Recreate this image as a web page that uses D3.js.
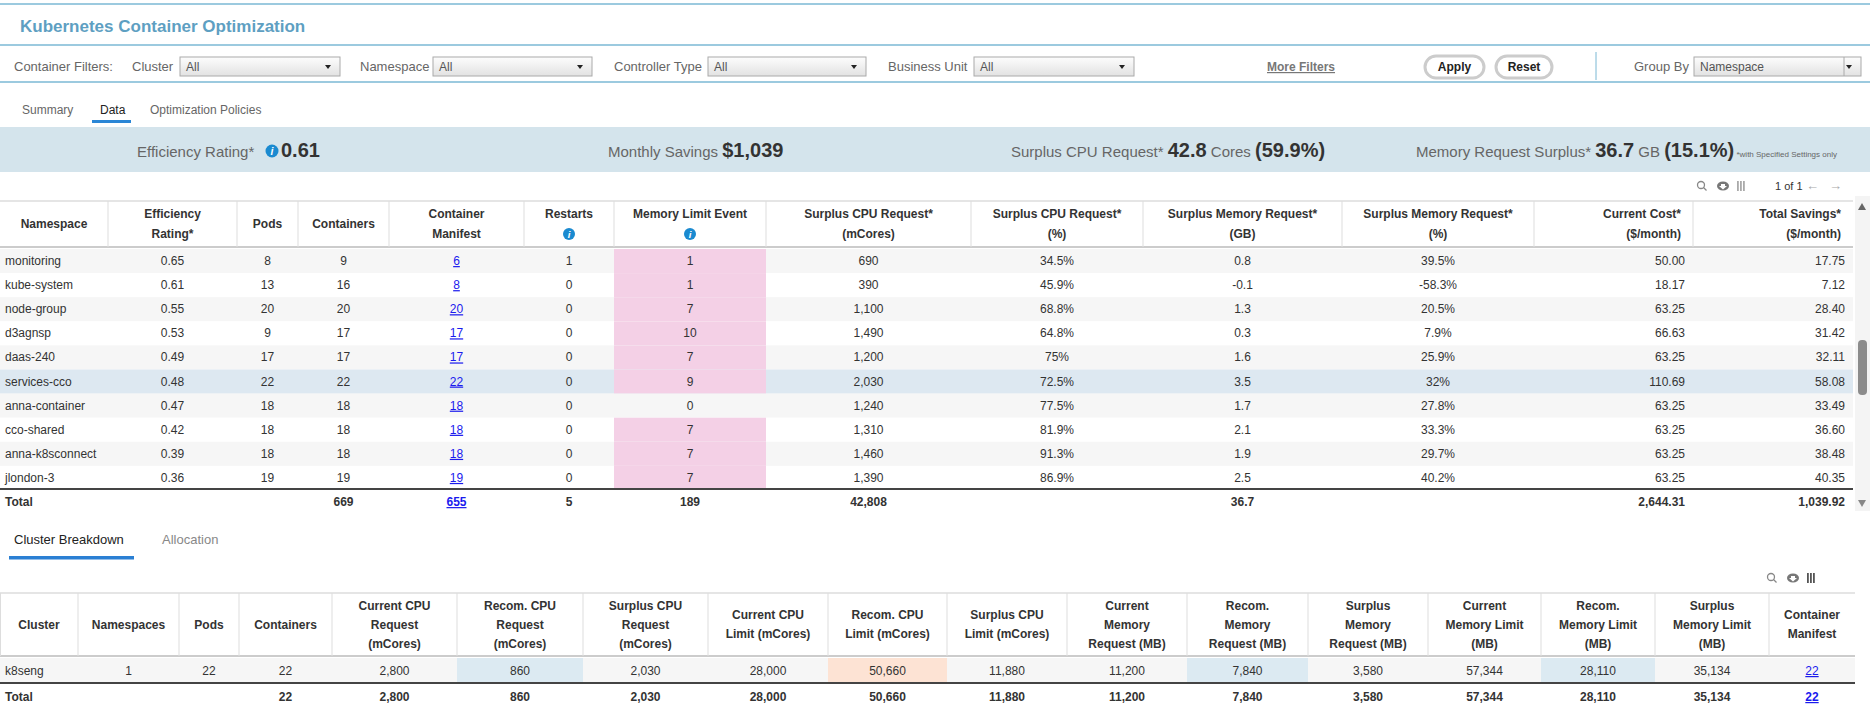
<!DOCTYPE html>
<html><head><meta charset="utf-8">
<script src="https://cdn.jsdelivr.net/npm/d3@7"></script>
<style>body{margin:0;background:#fff;font-family:"Liberation Sans",Arial,sans-serif;}</style>
</head><body><div id="chart"></div>
<script>
const namespaces = ["monitoring","kube-system","node-group","d3agnsp","daas-240","services-cco","anna-container","cco-shared","anna-k8sconnect","jlondon-3"];
const efficiency = ["0.65","0.61","0.55","0.53","0.49","0.48","0.47","0.42","0.39","0.36"];
const pods = [8,13,20,9,17,22,18,18,18,19];
const containers = [9,16,20,17,17,22,18,18,18,19];
const manifest = [6,8,20,17,17,22,18,18,18,19];
const restarts = [1,0,0,0,0,0,0,0,0,0];
const memLimitEvents = [1,1,7,10,7,9,0,7,7,7];
const cpuSurplus = ["690","390","1,100","1,490","1,200","2,030","1,240","1,310","1,460","1,390"];
const cpuSurplusPct = ["34.5%","45.9%","68.8%","64.8%","75%","72.5%","77.5%","81.9%","91.3%","86.9%"];
const memSurplusGB = ["0.8","-0.1","1.3","0.3","1.6","3.5","1.7","2.1","1.9","2.5"];
const memSurplusPct = ["39.5%","-58.3%","20.5%","7.9%","25.9%","32%","27.8%","33.3%","29.7%","40.2%"];
const currentCost = ["50.00","18.17","63.25","66.63","63.25","110.69","63.25","63.25","63.25","63.25"];
const totalSavings = ["17.75","7.12","28.40","31.42","32.11","58.08","33.49","36.60","38.48","40.35"];
const topTotals = ["Total","","","669","655","5","189","42,808","","36.7","","2,644.31","1,039.92"];
const topHeaders = [["Namespace"],["Efficiency","Rating*"],["Pods"],["Containers"],["Container","Manifest"],["Restarts","(i)"],["Memory Limit Event","(i)"],["Surplus CPU Request*","(mCores)"],["Surplus CPU Request*","(%)"],["Surplus Memory Request*","(GB)"],["Surplus Memory Request*","(%)"],["Current Cost*","($/month)"],["Total Savings*","($/month)"]];

const clusterHeaders = [["Cluster"],["Namespaces"],["Pods"],["Containers"],["Current CPU","Request","(mCores)"],["Recom. CPU","Request","(mCores)"],["Surplus CPU","Request","(mCores)"],["Current CPU","Limit (mCores)"],["Recom. CPU","Limit (mCores)"],["Surplus CPU","Limit (mCores)"],["Current","Memory","Request (MB)"],["Recom.","Memory","Request (MB)"],["Surplus","Memory","Request (MB)"],["Current","Memory Limit","(MB)"],["Recom.","Memory Limit","(MB)"],["Surplus","Memory Limit","(MB)"],["Container","Manifest"]];
const clusterRow = ["k8seng","1","22","22","2,800","860","2,030","28,000","50,660","11,880","11,200","7,840","3,580","57,344","28,110","35,134","22"];
const clusterTotal = ["Total","","","22","2,800","860","2,030","28,000","50,660","11,880","11,200","7,840","3,580","57,344","28,110","35,134","22"];

const W = 1870, H = 721;
const svg = d3.select("#chart").append("svg").attr("width", W).attr("height", H)
  .style("font-family", '"Liberation Sans", Arial, sans-serif');

const defs = svg.append("defs");
const grad = defs.append("linearGradient").attr("id", "sel").attr("x1", 0).attr("x2", 0).attr("y1", 0).attr("y2", 1);
grad.append("stop").attr("offset", "0%").attr("stop-color", "#fdfdfd");
grad.append("stop").attr("offset", "100%").attr("stop-color", "#e2e2e2");

// header lines and title
[4, 45, 82].forEach(y => svg.append("line").attr("x1", 0).attr("x2", W).attr("y1", y).attr("y2", y)
  .attr("stroke", "#7bb8d4").attr("stroke-width", 1.5));
svg.append("text").attr("x", 20).attr("y", 32).attr("font-size", 17).attr("font-weight", "bold")
  .attr("fill", "#5e9fc2").text("Kubernetes Container Optimization");

// filter bar
const labels = [["Container Filters:", 14], ["Cluster", 132], ["Namespace", 360], ["Controller Type", 614], ["Business Unit", 888], ["Group By", 1634]];
labels.forEach(([t, x]) => svg.append("text").attr("x", x).attr("y", 71).attr("font-size", 13).attr("fill", "#666").text(t));
const selects = [[180, 340, "All"], [433, 592, "All"], [708, 866, "All"], [974, 1134, "All"], [1694, 1861, "Namespace"]];
selects.forEach(([x0, x1, t]) => {
  svg.append("rect").attr("x", x0).attr("y", 57).attr("width", x1 - x0).attr("height", 19)
    .attr("fill", "url(#sel)").attr("stroke", "#aaa");
  svg.append("text").attr("x", x0 + 6).attr("y", 71).attr("font-size", 12).attr("fill", "#555").text(t);
  svg.append("path").attr("d", `M${x1 - 15},65 l6,0 l-3,4 z`).attr("fill", "#222");
});
svg.append("line").attr("x1", 1844).attr("x2", 1844).attr("y1", 57).attr("y2", 76).attr("stroke", "#aaa");
svg.append("text").attr("x", 1267).attr("y", 71).attr("font-size", 12).attr("font-weight", "bold")
  .attr("fill", "#777").attr("text-decoration", "underline").text("More Filters");
[[1425, 1484, "Apply"], [1496, 1552, "Reset"]].forEach(([x0, x1, t]) => {
  svg.append("rect").attr("x", x0).attr("y", 56).attr("width", x1 - x0).attr("height", 22).attr("rx", 11)
    .attr("fill", "#fff").attr("stroke", "#ccc").attr("stroke-width", 3);
  svg.append("text").attr("x", (x0 + x1) / 2).attr("y", 71).attr("text-anchor", "middle")
    .attr("font-size", 12).attr("font-weight", "bold").attr("fill", "#222").text(t);
});
svg.append("line").attr("x1", 1596).attr("x2", 1596).attr("y1", 52).attr("y2", 80).attr("stroke", "#7bb8d4");

// tabs
[["Summary", 22, "#666"], ["Data", 100, "#222"], ["Optimization Policies", 150, "#666"]].forEach(([t, x, c]) =>
  svg.append("text").attr("x", x).attr("y", 114).attr("font-size", 12).attr("fill", c).text(t));
svg.append("rect").attr("x", 92).attr("y", 120).attr("width", 39).attr("height", 3).attr("fill", "#2a86d6");

// summary band
svg.append("rect").attr("x", 0).attr("y", 127).attr("width", W).attr("height", 45).attr("fill", "#d4e4ec");
function info(x, y, r) {
  svg.append("circle").attr("cx", x).attr("cy", y).attr("r", r).attr("fill", "#1a8ad0");
  svg.append("text").attr("x", x).attr("y", y + r * 0.6).attr("text-anchor", "middle").attr("font-size", r * 1.6)
    .attr("font-weight", "bold").attr("font-style", "italic").attr("fill", "#fff").text("i");
}
function band(x, parts) {
  const t = svg.append("text").attr("x", x).attr("y", 157).attr("fill", "#666");
  parts.forEach(([s, size, bold]) => t.append("tspan").attr("font-size", size)
    .attr("font-weight", bold ? "bold" : "normal").attr("fill", bold ? "#333" : "#666").text(s));
  return t;
}
band(137, [["Efficiency Rating*", 15, false]]);
info(272, 151, 6.5);
band(281, [["0.61", 20, true]]);
band(608, [["Monthly Savings ", 15, false], ["$1,039", 20, true]]);
band(1011, [["Surplus CPU Request* ", 15, false], ["42.8", 20, true], [" Cores ", 15, false], ["(59.9%)", 20, true]]);
band(1416, [["Memory Request Surplus* ", 15, false], ["36.7", 20, true], [" GB ", 15, false], ["(15.1%)", 20, true], [" *with Specified Settings only", 8, false]]);

// toolbar icons
function tools(x, y, label) {
  svg.append("circle").attr("cx", x).attr("cy", y - 1).attr("r", 3.5).attr("fill", "none").attr("stroke", "#888").attr("stroke-width", 1.3);
  svg.append("line").attr("x1", x + 2.5).attr("y1", y + 1.5).attr("x2", x + 5.5).attr("y2", y + 4.5).attr("stroke", "#888").attr("stroke-width", 1.3);
  svg.append("ellipse").attr("cx", x + 22).attr("cy", y).attr("rx", 6).attr("ry", 4.5).attr("fill", "#777");
  svg.append("path").attr("d", `M${x + 20},${y - 2} l4,0 l0,2 l2,0 l-4,3.5 l-4,-3.5 l2,0 z`).attr("fill", "#fff");
  [0, 3, 6].forEach(d => svg.append("rect").attr("x", x + 36 + d).attr("y", y - 5).attr("width", 1.8).attr("height", 10).attr("fill", label ? "#aaa" : "#555"));
  if (label) {
    svg.append("text").attr("x", x + 74).attr("y", y + 4).attr("font-size", 11).attr("fill", "#333").text("1 of 1");
    svg.append("text").attr("x", x + 105).attr("y", y + 4).attr("font-size", 13).attr("fill", "#aaa").text("\u2190");
    svg.append("text").attr("x", x + 128).attr("y", y + 4).attr("font-size", 13).attr("fill", "#aaa").text("\u2192");
  }
}
tools(1701, 186, true);

// generic table drawer
function drawTable(opts) {
  const { edges, top, headBottom, headers, rows, rowH, align, headerLines } = opts;
  const g = svg.append("g");
  const xs = edges;
  const right = xs[xs.length - 1];
  const y = d3.scaleBand().domain(d3.range(rows.length)).range([headBottom + 2, headBottom + 2 + rowH * rows.length]);
  // rows
  rows.forEach((r, i) => {
    g.append("rect").attr("x", 0).attr("y", y(i)).attr("width", right).attr("height", y.bandwidth())
      .attr("fill", r.bg || "#fff");
    (r.cells || []).forEach((c, j) => {
      if (c.bg) g.append("rect").attr("x", xs[j]).attr("y", y(i)).attr("width", xs[j + 1] - xs[j]).attr("height", y.bandwidth()).attr("fill", c.bg);
    });
  });
  // header
  g.append("line").attr("x1", 0).attr("x2", right).attr("y1", top).attr("y2", top).attr("stroke", "#ddd").attr("stroke-width", 1.5);
  g.append("line").attr("x1", 0).attr("x2", right).attr("y1", headBottom).attr("y2", headBottom).attr("stroke", "#ccc").attr("stroke-width", 2);
  xs.slice(1, -1).forEach(x => g.append("line").attr("x1", x).attr("x2", x).attr("y1", top).attr("y2", headBottom).attr("stroke", "#ddd"));
  if (opts.leftBorder) g.append("line").attr("x1", 0.5).attr("x2", 0.5).attr("y1", top).attr("y2", headBottom).attr("stroke", "#ddd");
  const mid = (top + headBottom) / 2;
  headers.forEach((lines, j) => {
    const n = lines.length;
    const cx = align[j] === "end" ? xs[j + 1] - 12 : (xs[j] + xs[j + 1]) / 2;
    lines.forEach((l, k) => {
      const ly = mid + (k - (n - 1) / 2) * headerLines + 4;
      if (l === "(i)") { info(cx, ly - 4, 6); return; }
      g.append("text").attr("x", cx).attr("y", ly).attr("text-anchor", align[j] === "end" ? "end" : "middle")
        .attr("font-size", 12).attr("font-weight", "bold").attr("fill", "#333").text(l);
    });
  });
  // cell texts
  rows.forEach((r, i) => {
    if (r.line) g.append("line").attr("x1", 0).attr("x2", right).attr("y1", y(i) - 1).attr("y2", y(i) - 1).attr("stroke", "#444").attr("stroke-width", 2);
    r.cells.forEach((c, j) => {
      const a = j === 0 ? "start" : align[j];
      const x = a === "start" ? xs[j] + 5 : a === "end" ? xs[j + 1] - 8 : (xs[j] + xs[j + 1]) / 2;
      g.append("text").attr("x", x).attr("y", y(i) + y.bandwidth() / 2 + 4).attr("text-anchor", a)
        .attr("font-size", 12).attr("font-weight", r.bold ? "bold" : "normal")
        .attr("fill", c.link ? "#1a1aee" : "#333").attr("text-decoration", c.link ? "underline" : null).text(c.v);
    });
  });
}

// namespace table
const topEdges = [0, 108, 237, 298, 389, 524, 614, 766, 971, 1143, 1342, 1534, 1693, 1853];
const topAlign = ["start", "middle", "middle", "middle", "middle", "middle", "middle", "middle", "middle", "middle", "middle", "end", "end"];
const topRows = namespaces.map((ns, i) => ({
  bg: i === 5 ? "#dde8f1" : (i % 2 === 0 ? "#f6f6f6" : "#fff"),
  cells: [ns, efficiency[i], pods[i], containers[i], manifest[i], restarts[i], memLimitEvents[i], cpuSurplus[i], cpuSurplusPct[i], memSurplusGB[i], memSurplusPct[i], currentCost[i], totalSavings[i]]
    .map((v, j) => ({ v, link: j === 4, bg: j === 6 && memLimitEvents[i] > 0 ? "#f4d0e6" : null }))
}));
topRows.push({ bold: true, line: true, cells: topTotals.map((v, j) => ({ v, link: j === 4 })) });
drawTable({ edges: topEdges, top: 201, headBottom: 247, headers: topHeaders, rows: topRows, rowH: 24.1, align: topAlign, headerLines: 20 });

// scrollbar
svg.append("rect").attr("x", 1855).attr("y", 196).attr("width", 15).attr("height", 315).attr("fill", "#f4f4f4");
svg.append("path").attr("d", "M1858,210 l8,0 l-4,-7 z").attr("fill", "#666");
svg.append("path").attr("d", "M1858,500 l8,0 l-4,7 z").attr("fill", "#888");
svg.append("rect").attr("x", 1858).attr("y", 340).attr("width", 9).attr("height", 55).attr("rx", 4).attr("fill", "#8c8c8c");

// lower tabs
svg.append("text").attr("x", 14).attr("y", 544).attr("font-size", 13).attr("fill", "#222").text("Cluster Breakdown");
svg.append("text").attr("x", 162).attr("y", 544).attr("font-size", 13).attr("fill", "#888").text("Allocation");
svg.append("rect").attr("x", 9).attr("y", 556).attr("width", 125).attr("height", 3.5).attr("fill", "#2a7fd3");
tools(1771, 578, false);

// cluster table
const botEdges = [0, 78, 179, 239, 332, 457, 583, 708, 828, 947, 1067, 1187, 1308, 1428, 1541, 1655, 1769, 1855];
const botAlign = botEdges.slice(1).map(() => "middle");
const tint = { 5: "#dceaf2", 8: "#fde3d4", 11: "#dceaf2", 14: "#dceaf2" };
const botRows = [
  { bg: "#f6f6f6", cells: clusterRow.map((v, j) => ({ v, link: j === 16, bg: tint[j] || null })) },
  { bold: true, line: true, cells: clusterTotal.map((v, j) => ({ v, link: j === 16 })) }
];
drawTable({ edges: botEdges, top: 593, headBottom: 656, headers: clusterHeaders, rows: botRows, rowH: 26, align: botAlign, headerLines: 19, leftBorder: true });
</script>
</body></html>
